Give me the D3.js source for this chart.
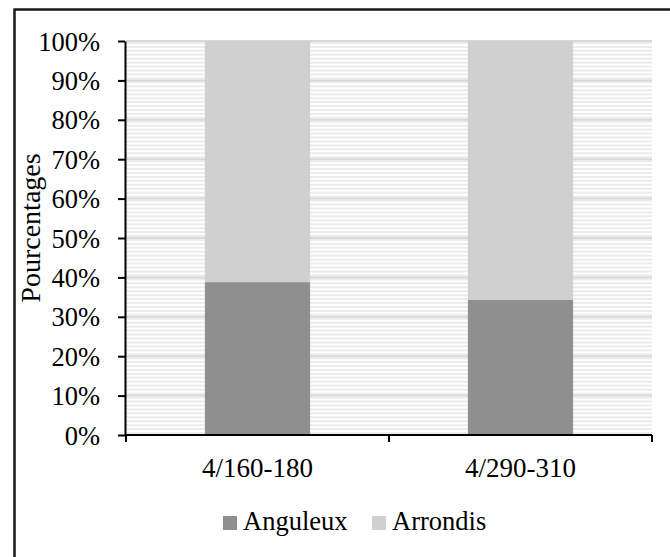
<!DOCTYPE html>
<html><head><meta charset="utf-8">
<script src="https://cdn.jsdelivr.net/npm/d3@7"></script>
<style>body{margin:0;background:#fff}svg{display:block}text{font-family:"Liberation Serif","Times New Roman",serif;fill:#000}</style>
</head><body>
<svg id="c" width="670" height="557"></svg>
<script>
const categories = ["4/160-180", "4/290-310"];
const seriesNames = ["Anguleux", "Arrondis"];
const anguleux = [0.388, 0.343];
const arrondis = [0.612, 0.657];
const yTicks = [0,0.1,0.2,0.3,0.4,0.5,0.6,0.7,0.8,0.9,1.0];
const colors = ["#8e8f8e", "#d0d0d0"];

const svg = d3.select("#c");
const m = {l:126, r:652, t:41, b:435};
// outer border
svg.append("rect").attr("x",14.5).attr("y",9.5).attr("width",700).attr("height",600)
  .attr("fill","none").attr("stroke","#1a1a1a").attr("stroke-width",2.5);

const x = d3.scaleBand().domain(categories).range([m.l,m.r]).paddingInner(0.6).paddingOuter(0.3);
const y = d3.scaleLinear().domain([0,1]).range([m.b,m.t]);

// minor stripes
const minor = d3.range(0,100).map(i=>i/100+0.005);
svg.append("g").selectAll("line").data(minor).join("line")
  .attr("x1",m.l).attr("x2",m.r).attr("y1",d=>y(d)).attr("y2",d=>y(d))
  .attr("stroke","#ececec").attr("stroke-width",2);
// major gridlines
svg.append("g").selectAll("line").data(yTicks.slice(1)).join("line")
  .attr("x1",m.l).attr("x2",m.r).attr("y1",d=>y(d)).attr("y2",d=>y(d))
  .attr("stroke","#d9d9d9").attr("stroke-width",2);

// stacked bars
const rows = categories.map((c,i)=>({cat:c, Anguleux:anguleux[i], Arrondis:arrondis[i]}));
const stack = d3.stack().keys(seriesNames)(rows);
svg.append("g").selectAll("g").data(stack).join("g").attr("fill",(d,i)=>colors[i])
  .selectAll("rect").data(d=>d).join("rect")
  .attr("x",d=>x(d.data.cat)).attr("width",x.bandwidth())
  .attr("y",d=>y(d[1])).attr("height",d=>y(d[0])-y(d[1]));

// y axis
const ya = svg.append("g").attr("transform",`translate(${m.l-1},0)`)
  .call(d3.axisLeft(y).tickValues(yTicks).tickFormat(d3.format(".0%")).tickSize(7).tickSizeOuter(0));
ya.select(".domain").attr("stroke","#000").attr("stroke-width",2);
ya.selectAll(".tick line").attr("stroke","#000").attr("stroke-width",2);
ya.selectAll(".tick text").attr("x",-25).attr("dy","0.34em").attr("font-size",26.5);

// x axis
const xa = svg.append("g").attr("transform",`translate(0,${m.b})`);
xa.append("line").attr("x1",m.l-1).attr("x2",m.r).attr("stroke","#000").attr("stroke-width",2);
const bounds = [m.l, (m.l+m.r)/2, m.r];
xa.selectAll(".tk").data(bounds).join("line").attr("class","tk")
  .attr("x1",d=>d).attr("x2",d=>d).attr("y1",0).attr("y2",7).attr("stroke","#000").attr("stroke-width",2);
xa.selectAll(".lbl").data(categories).join("text").attr("class","lbl")
  .attr("x",d=>x(d)+x.bandwidth()/2).attr("y",42).attr("text-anchor","middle").attr("font-size",27).text(d=>d);

// y title
svg.append("text").attr("transform","translate(40,228) rotate(-90)").attr("text-anchor","middle")
  .attr("font-size",28).text("Pourcentages");

// legend
const leg = [{n:"Anguleux",x:223,c:colors[0]},{n:"Arrondis",x:372,c:colors[1]}];
const lg = svg.append("g").selectAll("g").data(leg).join("g");
lg.append("rect").attr("x",d=>d.x).attr("y",516).attr("width",14).attr("height",14).attr("fill",d=>d.c);
lg.append("text").attr("x",d=>d.x+20).attr("y",530).attr("font-size",26.5).text(d=>d.n);
</script>
</body></html>
